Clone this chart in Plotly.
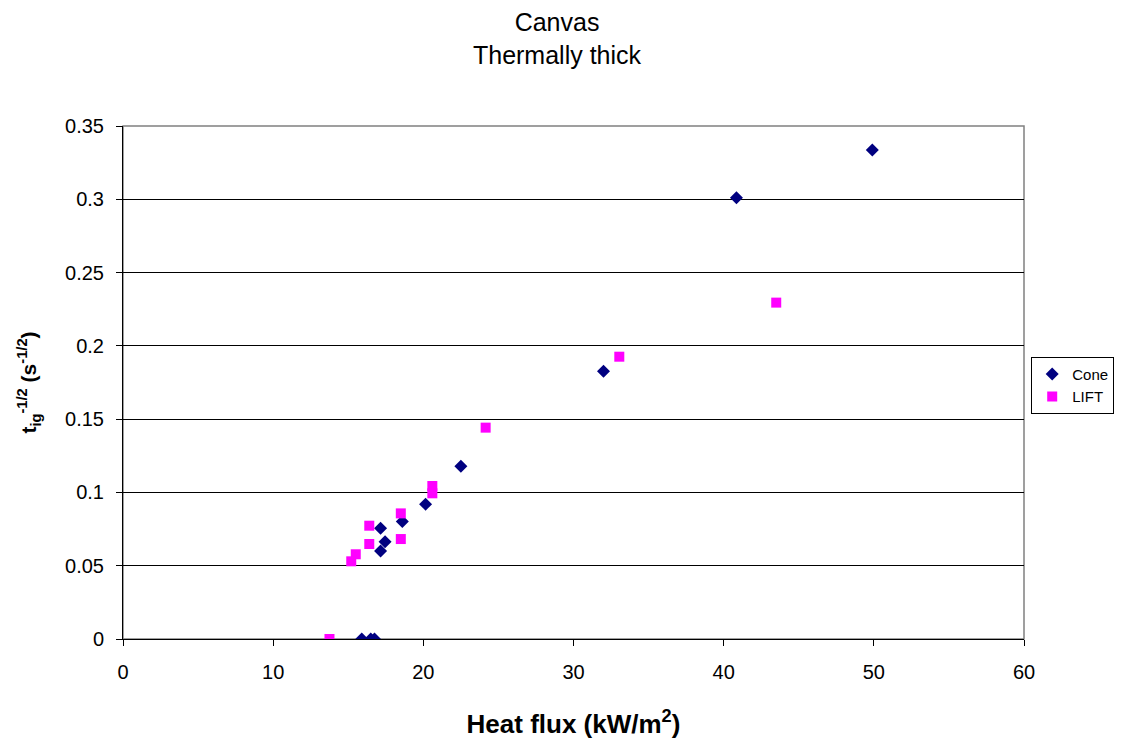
import plotly.graph_objects as go

# values
cone_flux = [15.9, 16.5, 16.75, 17.15, 17.45, 17.15, 18.6, 20.15, 22.5, 32.0, 40.85, 49.9]
cone_tig = [0.0, 0.0, 0.0, 0.0755, 0.0664, 0.060, 0.0802, 0.092, 0.1178, 0.1826, 0.301, 0.3336]

lift_flux = [13.75, 15.2, 15.5, 16.4, 16.4, 18.5, 18.5, 20.6, 20.6, 24.15, 33.05, 43.5]
lift_tig = [0.0, 0.053, 0.0578, 0.0773, 0.0648, 0.0857, 0.0682, 0.1044, 0.0994, 0.1442, 0.1926, 0.2295]

x_ticks = [0, 10, 20, 30, 40, 50, 60]
y_ticks = [0, 0.05, 0.1, 0.15, 0.2, 0.25, 0.3, 0.35]

font_name = "Liberation Sans, Arial, sans-serif"

fig = go.Figure()
fig.add_trace(
    go.Scatter(
        name="Cone",
        x=cone_flux,
        y=cone_tig,
        mode="markers",
        marker=dict(symbol="diamond", size=10, color="#000080"),
    )
)
fig.add_trace(
    go.Scatter(
        name="LIFT",
        x=lift_flux,
        y=lift_tig,
        mode="markers",
        marker=dict(symbol="square", size=10, color="#FF00FF"),
    )
)

fig.update_layout(
    width=1123,
    height=741,
    autosize=False,
    margin=dict(l=123, r=99, t=126, b=102, autoexpand=False),
    plot_bgcolor="white",
    paper_bgcolor="white",
    font=dict(family=font_name, size=20, color="black"),
    title=dict(
        text="Canvas<br>Thermally thick",
        x=0.496,
        xanchor="center",
        y=0.958,
        yanchor="top",
        font=dict(size=25),
    ),
    legend=dict(
        x=1.008,
        xanchor="left",
        y=0.55,
        yanchor="top",
        bordercolor="black",
        borderwidth=1,
        font=dict(size=15),
        itemwidth=30,
        tracegroupgap=0,
    ),
    shapes=[
        dict(
            type="rect",
            xref="paper",
            yref="paper",
            x0=0,
            x1=1,
            y0=0,
            y1=1,
            line=dict(color="#808080", width=1.5),
            layer="below",
        )
    ],
)

# x-axis
fig.update_xaxes(
    title=dict(text="<b>Heat flux (kW/m<sup>2</sup>)</b>", font=dict(size=26), standoff=32),
    range=[0, 60],
    tickvals=x_ticks,
    ticks="outside",
    ticklen=6,
    tickcolor="black",
    ticklabelstandoff=9,
    showgrid=False,
    zeroline=False,
    showline=True,
    linecolor="black",
    linewidth=1,
)
# y-axis
fig.update_yaxes(
    title=dict(
        text="<b>t<sub>ig</sub><sup>-1/2</sup> (s<sup>-1/2</sup>)</b>",
        font=dict(size=21),
        standoff=22,
    ),
    range=[0, 0.35],
    tickvals=y_ticks,
    ticks="outside",
    ticklen=6,
    tickcolor="black",
    ticklabelstandoff=8,
    showgrid=True,
    gridcolor="black",
    gridwidth=1,
    zeroline=False,
    showline=True,
    linecolor="black",
    linewidth=1,
)

# drop the page's default body margin so the figure sits at 0,0
fig.write_html(
    "out.html",
    config={"displayModeBar": False},
    post_script="document.body.style.margin='0';",
)
